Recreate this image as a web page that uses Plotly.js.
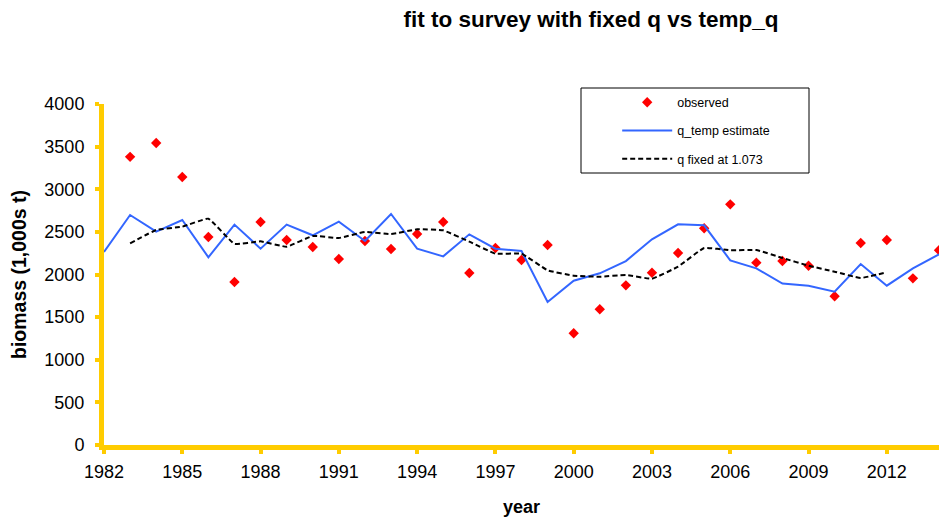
<!DOCTYPE html>
<html>
<head>
<meta charset="utf-8">
<script src="https://cdn.plot.ly/plotly-3.0.1.min.js"></script>
<style>html,body{margin:0;padding:0;background:#fff;}#chart{width:939px;height:520px;}</style>
</head>
<body>
<div id="chart"></div>
<script>
const obsYears = [1983,1984,1985,1986,1987,1988,1989,1990,1991,1992,1993,1994,1995,1996,1997,1998,1999,2000,2001,2002,2003,2004,2005,2006,2007,2008,2009,2010,2011,2012,2013,2014];
const observed = [3380,3543,3144,2440,1912,2616,2405,2323,2182,2393,2299,2475,2616,2018,2311,2170,2346,1310,1592,1873,2021,2252,2542,2823,2139,2158,2103,1744,2370,2405,1955,2284];

const tempYears = [1982,1983,1984,1985,1986,1987,1988,1989,1990,1991,1992,1993,1994,1995,1996,1997,1998,1999,2000,2001,2002,2003,2004,2005,2006,2007,2008,2009,2010,2011,2012,2013,2014];
const qTemp = [2264,2698,2502,2639,2202,2585,2303,2585,2460,2620,2393,2710,2303,2213,2471,2303,2276,1677,1927,2014,2158,2413,2589,2577,2166,2072,1893,1867,1798,2123,1869,2072,2237];

const fixedYears = [1983,1984,1985,1986,1987,1988,1989,1990,1991,1992,1993,1994,1995,1996,1997,1998,1999,2000,2001,2002,2003,2004,2005,2006,2007,2008,2009,2010,2011,2012];
const qFixed = [2366,2522,2561,2655,2358,2389,2326,2452,2428,2499,2475,2530,2518,2385,2244,2244,2049,1986,1974,1994,1951,2092,2311,2284,2287,2194,2103,2033,1959,2026];

const xTicks = [1982,1985,1988,1991,1994,1997,2000,2003,2006,2009,2012];

const FONT = 'Liberation Sans, Arial, sans-serif';
const YELLOW = '#FFCC00';

const traces = [
  {x: obsYears, y: observed, type: 'scatter', mode: 'markers', name: 'observed',
   legendgroup: 'a',
   marker: {symbol: 'diamond', size: 8, color: '#FF0000'}},
  {x: tempYears, y: qTemp, type: 'scatter', mode: 'lines', name: 'q_temp estimate',
   legendgroup: 'b',
   line: {color: '#3366FF', width: 2}},
  {x: fixedYears, y: qFixed, type: 'scatter', mode: 'lines', name: 'q fixed at 1.073',
   legendgroup: 'c',
   line: {color: '#000000', width: 2, dash: '5px,3px', shape: 'spline', smoothing: 0.3}}
];

const layout = {
  width: 939, height: 520,
  margin: {l: 104, r: 0, t: 104, b: 75},
  paper_bgcolor: '#fff', plot_bgcolor: '#fff',
  font: {family: FONT, color: '#000', size: 18},
  title: {text: '<b>fit to survey with fixed q vs temp_q</b>', font: {size: 22.5, family: FONT},
          x: 0.6294, xanchor: 'center', y: 0.9635, yanchor: 'middle', xref: 'container', yref: 'container'},
  xaxis: {
    range: [1982, 2014], tickmode: 'array', tickvals: xTicks, ticktext: xTicks.map(String),
    showgrid: false, zeroline: false, showline: true, linecolor: YELLOW, linewidth: 5,
    ticks: 'outside', ticklen: 4, tickwidth: 4, tickcolor: YELLOW,
    tickfont: {size: 18, family: FONT}, ticklabelstandoff: 2,
    title: {text: '<b>year</b>', font: {size: 18, family: FONT}, standoff: 21}
  },
  yaxis: {
    range: [0, 4000], dtick: 500, tick0: 0,
    showgrid: false, zeroline: false, showline: true, linecolor: YELLOW, linewidth: 5,
    ticks: 'outside', ticklen: 4, tickwidth: 4, tickcolor: YELLOW,
    tickfont: {size: 18, family: FONT}, ticklabelstandoff: 7,
    title: {text: '<b>biomass (1,000s t)</b>', font: {size: 19.5, family: FONT}, standoff: 14}
  },
  showlegend: true,
  legend: {
    x: 0.6146, y: 1.048, xanchor: 'left', yanchor: 'top',
    bgcolor: 'rgba(0,0,0,0)', borderwidth: 0,
    font: {size: 12.5, family: FONT},
    traceorder: 'grouped', tracegroupgap: 9, itemwidth: 50
  },
  shapes: [
    {type: 'rect', xref: 'paper', yref: 'paper',
     x0: (581-104)/835, x1: (809-104)/835, y0: (445-173)/341, y1: (445-88)/341,
     line: {color: '#000', width: 1}, fillcolor: 'rgba(0,0,0,0)', layer: 'below'}
  ]
};

Plotly.newPlot('chart', traces, layout, {displayModeBar: false, staticPlot: true});
</script>
</body>
</html>
